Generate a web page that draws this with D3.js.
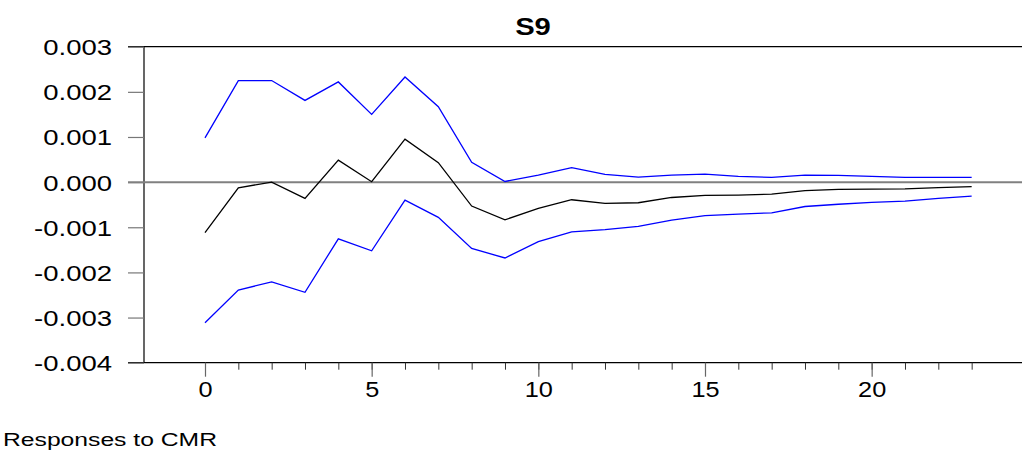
<!DOCTYPE html>
<html>
<head>
<meta charset="utf-8">
<script src="https://cdn.jsdelivr.net/npm/d3@7"></script>
<style>
  html, body { margin: 0; padding: 0; background: #fff; }
  svg { display: block; }
  text { font-family: Arial, "Liberation Sans", sans-serif; fill: #000; }
</style>
</head>
<body>
<svg id="chart" width="1022" height="451"></svg>
<script>
// ---- data ----
const periods = d3.range(0, 24);
const response = [-0.00112, -0.000125, 0.0, -0.00036, 0.000488, 0.00001, 0.000953, 0.00043,
  -0.00053, -0.000834, -0.000583, -0.00039, -0.00047, -0.000457, -0.00034, -0.000295,
  -0.000288, -0.000265, -0.00019, -0.00016, -0.000155, -0.00015, -0.00012, -0.0001];
const upperBand = [0.00098, 0.00225, 0.00225, 0.00181, 0.00222, 0.0015, 0.00233, 0.00167,
  0.00044, 0.000015, 0.000155, 0.00032, 0.00017, 0.00011, 0.000155, 0.000177,
  0.000126, 0.000104, 0.000155, 0.00015, 0.000126, 0.000104, 0.000104, 0.000104];
const lowerBand = [-0.003115, -0.00239, -0.00221, -0.00244, -0.001255, -0.00152, -0.000398, -0.00078,
  -0.00147, -0.00168, -0.00132, -0.0011, -0.00105, -0.00098, -0.00084, -0.00074,
  -0.00071, -0.00068, -0.00054, -0.00049, -0.00045, -0.00042, -0.00036, -0.00031];
const yTickValues = [-0.004, -0.003, -0.002, -0.001, 0.0, 0.001, 0.002, 0.003];
const yTickLabels = ["-0.004", "-0.003", "-0.002", "-0.001", "0.000", "0.001", "0.002", "0.003"];
const xMajorTicks = [0, 5, 10, 15, 20];
const xTickLabels = ["0", "5", "10", "15", "20"];
const chartTitle = "S9";
const footerText = "Responses to CMR";

// ---- layout ----
const svg = d3.select("#chart");
const plotLeft = 144, plotRight = 1022, plotTop = 46.7, plotBottom = 362.7;
const x = d3.scaleLinear().domain([0, 23]).range([205, 205 + 23 * 33.333]);
const y = d3.scaleLinear().domain([-0.004, 0.003]).range([plotBottom, plotTop]);

// frame lines
svg.append("line").attr("x1", 128).attr("x2", plotRight).attr("y1", plotTop).attr("y2", plotTop)
  .attr("stroke", "#000").attr("stroke-width", 1.2);
svg.append("line").attr("x1", 128).attr("x2", plotRight).attr("y1", plotBottom).attr("y2", plotBottom)
  .attr("stroke", "#000").attr("stroke-width", 1.2);
svg.append("line").attr("x1", plotLeft).attr("x2", plotLeft).attr("y1", plotTop).attr("y2", plotBottom)
  .attr("stroke", "#000").attr("stroke-width", 1.2);

// y axis
const yAxis = d3.axisLeft(y).tickValues(yTickValues).tickSize(16)
  .tickFormat((d, i) => yTickLabels[i]);
const gy = svg.append("g").attr("transform", `translate(${plotLeft},0)`).call(yAxis);
gy.select(".domain").remove();
gy.selectAll(".tick line").attr("stroke", "#777").attr("stroke-width", 1.2);
gy.selectAll(".tick text")
  .attr("font-size", 22).attr("text-anchor", "end")
  .attr("x", -32 / 1.25).attr("dy", "0.36em")
  .attr("transform", "scale(1.25,1)")
  .style("font-family", "Arial, 'Liberation Sans', sans-serif");

// x axis minor ticks
const gxMinor = svg.append("g").attr("transform", `translate(0,${plotBottom})`)
  .call(d3.axisBottom(x).tickValues(periods).tickSize(7).tickFormat(""));
gxMinor.select(".domain").remove();
gxMinor.selectAll(".tick line").attr("stroke", "#333").attr("stroke-width", 1);

// x axis major ticks + labels
const gxMajor = svg.append("g").attr("transform", `translate(0,${plotBottom})`)
  .call(d3.axisBottom(x).tickValues(xMajorTicks).tickSize(14)
    .tickFormat((d, i) => xTickLabels[i]));
gxMajor.select(".domain").remove();
gxMajor.selectAll(".tick line").attr("stroke", "#666").attr("stroke-width", 1.2);
gxMajor.selectAll(".tick text")
  .attr("font-size", 22).attr("y", 34.5).attr("dy", 0)
  .attr("transform", "scale(1.15,1)")
  .style("font-family", "Arial, 'Liberation Sans', sans-serif");

// zero line
svg.append("line").attr("x1", 128).attr("x2", plotRight).attr("y1", y(0)).attr("y2", y(0))
  .attr("stroke", "#808080").attr("stroke-width", 2);

// series
const line = d3.line().x((d, i) => x(periods[i])).y(d => y(d));
svg.append("path").datum(upperBand).attr("d", line)
  .attr("fill", "none").attr("stroke", "#0000ff").attr("stroke-width", 1.3);
svg.append("path").datum(lowerBand).attr("d", line)
  .attr("fill", "none").attr("stroke", "#0000ff").attr("stroke-width", 1.3);
svg.append("path").datum(response).attr("d", line)
  .attr("fill", "none").attr("stroke", "#000").attr("stroke-width", 1.3);

// title
svg.append("text").attr("transform", "translate(533,35) scale(1.27,1)")
  .attr("text-anchor", "middle").attr("font-size", 23).attr("font-weight", "bold")
  .text(chartTitle);

// footer
svg.append("text").attr("transform", "translate(3,446) scale(1.3,1)")
  .attr("font-size", 19).text(footerText);
</script>
</body>
</html>
